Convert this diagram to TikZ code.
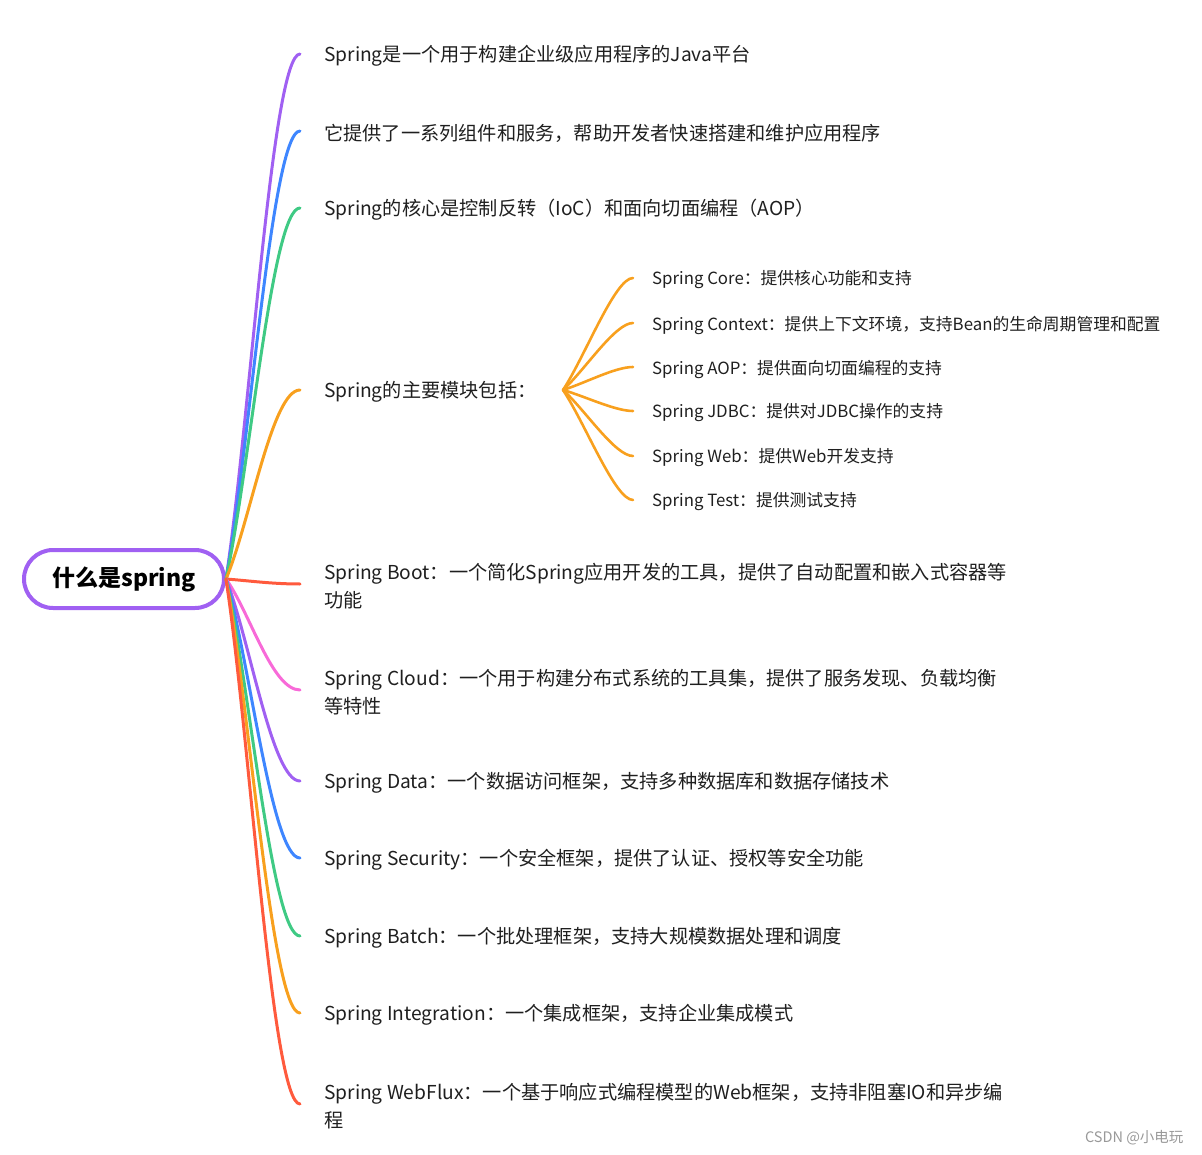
\documentclass[tikz,border=0pt]{standalone}
\usepackage{fontspec}
\setmainfont{Noto Sans CJK SC}
\usetikzlibrary{positioning}
\definecolor{mmpurple}{RGB}{160,96,242}
\definecolor{mmblue}{RGB}{62,134,255}
\definecolor{mmgreen}{RGB}{63,202,132}
\definecolor{mmorange}{RGB}{248,160,30}
\definecolor{mmred}{RGB}{255,90,61}
\definecolor{mmpink}{RGB}{248,106,216}
\tikzset{
  branch/.style={line width=3pt,line cap=round},
  twig/.style={line width=2.6pt,line cap=round,mmorange},
  topic/.style={anchor=west,inner sep=0pt,align=left,text=black!88,yshift=-2pt,
    font=\fontsize{19.2}{28}\selectfont},
  subtopic/.style={anchor=west,inner sep=0pt,text=black!88,yshift=-2pt,
    font=\fontsize{16.8}{22}\selectfont},
  rootbox/.style={draw=mmpurple,line width=4pt,rounded corners=29pt,
    minimum width=200,minimum height=58,
    font=\fontsize{23}{28}\selectfont\bfseries}
}
\begin{document}
\begin{tikzpicture}[x=1pt,y=-1pt]
\useasboundingbox (0,0) rectangle (1202,1155);
\node[rootbox] (root) at (124,579) {什么是spring};
% main topics
\foreach \y/\c/\txt [count=\i] in {
  54/mmpurple/{Spring是一个用于构建企业级应用程序的Java平台},
  131/mmblue/{它提供了一系列组件和服务，帮助开发者快速搭建和维护应用程序},
  208/mmgreen/{Spring的核心是控制反转（IoC）和面向切面编程（AOP）},
  390/mmorange/{Spring的主要模块包括：},
  584/mmred/{Spring Boot：一个简化Spring应用开发的工具，提供了自动配置和嵌入式容器等\\功能},
  690/mmpink/{Spring Cloud：一个用于构建分布式系统的工具集，提供了服务发现、负载均衡\\等特性},
  781/mmpurple/{Spring Data：一个数据访问框架，支持多种数据库和数据存储技术},
  858/mmblue/{Spring Security：一个安全框架，提供了认证、授权等安全功能},
  936/mmgreen/{Spring Batch：一个批处理框架，支持大规模数据处理和调度},
  1013/mmorange/{Spring Integration：一个集成框架，支持企业集成模式},
  1104/mmred/{Spring WebFlux：一个基于响应式编程模型的Web框架，支持非阻塞IO和异步编\\程}}
{
  \coordinate (e\i) at (300,\y);
  \node[topic,right=24pt of e\i] (t\i) {\txt};
  \draw[branch,\c] (root.east) .. controls +(24,{(\y-578)*0.3}) and +(-28,0) .. (e\i);
}
% modules
\coordinate (hub) at (563,390);
\foreach \y/\txt [count=\j] in {
  278/{Spring Core：提供核心功能和支持},
  323/{Spring Context：提供上下文环境，支持Bean的生命周期管理和配置},
  367/{Spring AOP：提供面向切面编程的支持},
  411/{Spring JDBC：提供对JDBC操作的支持},
  456/{Spring Web：提供Web开发支持},
  500/{Spring Test：提供测试支持}}
{
  \coordinate (m\j) at (633,\y);
  \node[subtopic,right=19pt of m\j] (s\j) {\txt};
  \draw[twig] (hub) .. controls +(22,{(\y-390)*0.3}) and +(-18,0) .. (m\j);
}
\node[text=black!40,font=\fontsize{14.5}{16}\selectfont,anchor=east] (mark) at (1187,1138) {CSDN @小电玩};
\end{tikzpicture}
\end{document}
